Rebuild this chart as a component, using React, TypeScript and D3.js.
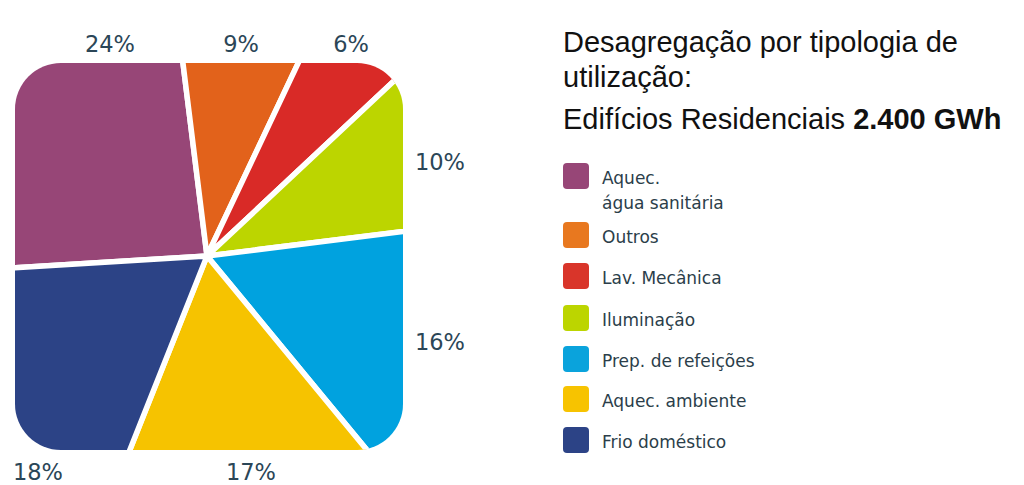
import React from "react";
import * as d3 from "d3";

const categories = [
  "Aquec. água sanitária",
  "Outros",
  "Lav. Mecânica",
  "Iluminação",
  "Prep. de refeições",
  "Aquec. ambiente",
  "Frio doméstico",
];
const legendLines = [
  ["Aquec.", "água sanitária"],
  ["Outros"],
  ["Lav. Mecânica"],
  ["Iluminação"],
  ["Prep. de refeições"],
  ["Aquec. ambiente"],
  ["Frio doméstico"],
];
const values = [24, 9, 6, 10, 16, 17, 18];
const colors = ["#974677", "#e2621b", "#d92a27", "#bcd500", "#00a2df", "#f6c300", "#2c4386"];
const legendColors = ["#974677", "#e8781f", "#d9352a", "#bcd500", "#0aa3dc", "#f7c300", "#2c4386"];

const titleLines = ["Desagregação por tipologia de", "utilização:"];
const subtitle = "Edifícios Residenciais ";
const subtitleBold = "2.400 GWh";

// label layout (anchor positions, text centered)
const labelLayout: [number, number][] = [
  [110, 52],
  [241, 52],
  [351, 52],
  [440, 170],
  [440, 350],
  [251, 480],
  [38, 480],
];
const legendY = [163, 222, 263, 305, 346, 386, 427];

export default function App() {
  const cx = 207;
  const cy = 256;
  const box = { x: 15, y: 63, w: 388, h: 387, r: 46 };
  const deg = Math.PI / 180;
  const start = -93.5 * deg;
  const pie = d3
    .pie<number>()
    .sort(null)
    .value((d) => d)
    .startAngle(start)
    .endAngle(start + 2 * Math.PI);
  const arcs = pie(values);
  const arc = d3.arc<d3.PieArcDatum<number>>().innerRadius(0).outerRadius(600);
  const pctFont = "'DejaVu Sans', sans-serif";
  const textColor = "#2b4657";

  return (
    <svg width={1024} height={485} style={{ position: "absolute", left: 0, top: 0, background: "#fff" }}>
      <defs>
        <clipPath id="roundbox">
          <rect x={box.x} y={box.y} width={box.w} height={box.h} rx={box.r} ry={box.r} />
        </clipPath>
      </defs>
      <g clipPath="url(#roundbox)">
        <g transform={`translate(${cx},${cy})`}>
          {arcs.map((a, i) => (
            <path key={i} d={arc(a) || ""} fill={colors[i]} stroke="#fff" strokeWidth={5.5} strokeLinejoin="round" />
          ))}
        </g>
      </g>
      {arcs.map((a, i) => (
        <text
          key={i}
          x={labelLayout[i][0]}
          y={labelLayout[i][1]}
          textAnchor="middle"
          fontFamily={pctFont}
          fontSize={22.5}
          fontWeight={400}
          fill={textColor}
        >
          {`${values[i]}%`}
        </text>
      ))}
      <g fontFamily="'Liberation Sans', Arial, sans-serif" fontSize={29} fill="#111">
        <text x={563} y={52}>{titleLines[0]}</text>
        <text x={563} y={87}>{titleLines[1]}</text>
        <text x={563} y={129}>
          {subtitle}
          <tspan fontWeight="bold">{subtitleBold}</tspan>
        </text>
      </g>
      {categories.map((c, i) => (
        <g key={c} transform={`translate(563,${legendY[i]})`}>
          <rect width={26} height={26} rx={4} fill={legendColors[i]} />
          {legendLines[i].map((ln, j) => (
            <text
              key={j}
              x={39}
              y={21 + j * 25}
              fontFamily={pctFont}
              fontSize={17}
              fill="#2b3e4a"
            >
              {ln}
            </text>
          ))}
        </g>
      ))}
    </svg>
  );
}
